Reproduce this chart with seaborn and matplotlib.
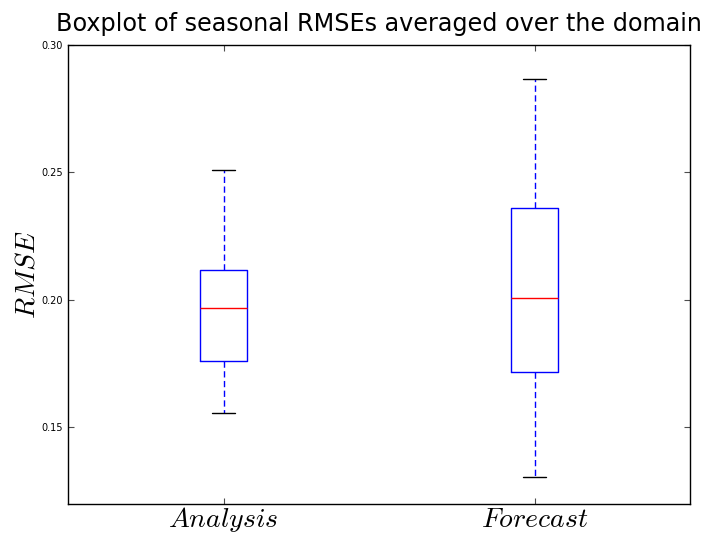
import pandas as pd
import numpy as np
import matplotlib
matplotlib.use("Agg")
import matplotlib.pyplot as plt
import seaborn as sns

# --- data (min, q1, median, q3, max) ---
categories = ["$Analysis$", "$Forecast$"]
analysis_rmse = [0.1555, 0.1759, 0.1967, 0.2116, 0.2509]
forecast_rmse = [0.1307, 0.1716, 0.2006, 0.2360, 0.2866]
y_ticks = [0.15, 0.20, 0.25, 0.30]

df = pd.DataFrame({
    "run": [categories[0]] * len(analysis_rmse) + [categories[1]] * len(forecast_rmse),
    "rmse": analysis_rmse + forecast_rmse,
})

# --- style ---
sns.set_theme(style="ticks")
plt.rcParams["font.family"] = ["DejaVu Sans"]
plt.rcParams["mathtext.fontset"] = "cm"
plt.rcParams["text.color"] = "black"
plt.rcParams["axes.labelcolor"] = "black"
plt.rcParams["xtick.color"] = "black"
plt.rcParams["ytick.color"] = "black"

fig = plt.figure(figsize=(7.07, 5.35), dpi=100)
ax = fig.add_axes([0.0962, 0.058, 0.8800, 0.858])

# fill=False -> boxes are plain lines
sns.boxplot(
    data=df, x="run", y="rmse", ax=ax,
    width=0.15, fill=False, whis=1.5, showfliers=False,
    boxprops=dict(color="blue", linewidth=1.0),
    whiskerprops=dict(color="blue", linestyle=(0, (4.5, 2.5)), linewidth=1.0),
    capprops=dict(color="black", linewidth=1.0),
    medianprops=dict(color="red", linewidth=1.0),
)

ax.set_xlim(-0.5, 1.5)
ax.set_ylim(0.12, 0.30)
ax.set_yticks(y_ticks)
ax.set_yticklabels([f"{v:.2f}" for v in y_ticks], fontsize=7)
ax.tick_params(axis="x", labelsize=20, pad=1)
ax.tick_params(direction="in", length=4, width=0.8, color="0.3",
               top=True, right=True)
ax.set_xlabel("")
ax.set_ylabel("$RMSE$", fontsize=20, labelpad=1)

for side in ["left", "right", "top", "bottom"]:
    ax.spines[side].set_visible(True)
    ax.spines[side].set_color("black")
    ax.spines[side].set_linewidth(1.0)

ax.set_title("Boxplot of seasonal RMSEs averaged over the domain",
             fontsize=17.2, pad=10, color="black")

fig.savefig("out.png", dpi=100)
